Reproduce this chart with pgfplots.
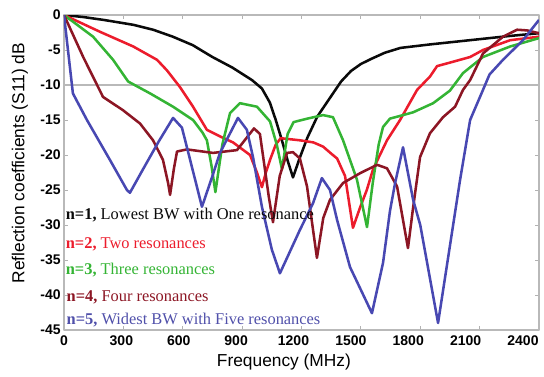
\documentclass[border=0pt]{standalone}
\usepackage{pgfplots}
\pgfplotsset{compat=1.18}
\usepackage{fontspec}
\setmainfont{Liberation Serif}
\setsansfont{Liberation Sans}
\definecolor{cblack}{RGB}{10,10,10}
\definecolor{cred}{RGB}{236,28,44}
\definecolor{cgreen}{RGB}{52,180,52}
\definecolor{cdred}{RGB}{140,22,36}
\definecolor{cblue}{RGB}{72,72,178}
\definecolor{tblue}{RGB}{80,80,170}
\begin{document}
\begin{tikzpicture}
\path[use as bounding box] (-48pt,-34.5pt) rectangle (360pt,247.5pt);
\begin{axis}[
  at={(0,0)}, anchor=south west,
  width=356.25pt, height=236.25pt, scale only axis,
  xmin=0, xmax=2400, ymin=-45, ymax=0,
  xtick={0,300,...,2400}, ytick={-45,-40,...,0},
  tick align=inside, major tick length=3pt,
  tick style={gray!60, line width=0.6pt},
  axis line style={gray!55, line width=0.8pt},
  ticklabel style={font=\sffamily\bfseries\fontsize{10.5}{12}\selectfont},
  /pgf/number format/assume math mode=true,
  /pgf/number format/1000 sep={},
  xticklabel style={xshift={-1.5pt*\ticknum}, yshift=-1pt},
  yticklabel style={xshift=1pt},
  xlabel={Frequency (MHz)},
  ylabel={Reflection coefficients (S11) dB},
  label style={font=\sffamily\fontsize{13}{15}\selectfont},
  xlabel style={at={(axis description cs:0.463,-0.1016)}, anchor=center},
  ylabel style={at={(axis description cs:-0.0926,0.53)}, anchor=center, rotate=0},
  line join=round,
]
\addplot[gray!55, line width=1.5pt, forget plot] coordinates {(0,-10) (2400,-10)};
% n=1
\addplot[cblack, line width=1.9pt] coordinates {
(0,0)(100,-0.3)(200,-0.7)(350,-1.4)(450,-2.1)(550,-3.1)(650,-4.3)(750,-6)(850,-7.5)(950,-9.3)(1000,-10.5)(1040,-12.5)(1070,-15)(1100,-17.8)(1130,-20.8)(1157,-23.2)(1190,-20.5)(1230,-17.5)(1280,-14.5)(1340,-12)(1400,-9.5)(1450,-8)(1500,-7)(1550,-6.3)(1620,-5.4)(1700,-4.7)(1850,-4.2)(2050,-3.6)(2250,-3.0)(2400,-2.6)};
% n=2
\addplot[cred, line width=1.9pt] coordinates {
(0,0)(182,-2.4)(350,-4.5)(470,-6.4)(520,-7.9)(586,-10.3)(652,-13.1)(722,-16.4)(800,-17.5)(854,-18.2)(940,-20)(975,-22.5)(1000,-24.6)(1020,-22.5)(1041,-20.7)(1070,-18.5)(1095,-17.6)(1192,-17.9)(1260,-18.2)(1309,-18.8)(1350,-19.8)(1380,-20.5)(1420,-23)(1460,-30.4)(1496,-27.5)(1530,-25)(1562,-22)(1632,-17.9)(1698,-15)(1784,-10.7)(1849,-8.8)(1885,-7.3)(1950,-6.8)(2052,-6)(2117,-5)(2254,-3.6)(2400,-3.1)};
% n=3
\addplot[cgreen, line width=1.9pt] coordinates {
(0,0)(147,-3.1)(248,-6.4)(324,-9.5)(435,-11.2)(551,-13.1)(652,-15)(700,-16.8)(722,-17.9)(745,-21.5)(765,-25.3)(800,-18.5)(839,-14)(889,-12.6)(975,-13.1)(1041,-15.2)(1075,-18.5)(1101,-22)(1130,-17)(1160,-15.3)(1230,-14.8)(1309,-14.3)(1359,-14.6)(1410,-17.9)(1480,-23.5)(1531,-30.3)(1560,-24)(1590,-18.5)(1612,-16)(1647,-14.8)(1700,-14.4)(1764,-13.9)(1865,-12.6)(1950,-10.8)(2016,-8.3)(2117,-6)(2254,-4.5)(2400,-3.3)};
% n=4
\addplot[cdred, line width=1.9pt] coordinates {
(0,0)(97,-6)(197,-11.7)(298,-13.6)(384,-15.5)(450,-17.9)(500,-20.7)(526,-24)(536,-25.7)(555,-22)(571,-19.5)(621,-19.2)(753,-19.7)(874,-19.3)(960,-16.2)(990,-17)(1010,-21)(1035,-26)(1056,-29.6)(1090,-23)(1127,-19.7)(1157,-19.6)(1192,-20.5)(1228,-24.5)(1278,-34.7)(1310,-29)(1344,-26.4)(1410,-24)(1496,-22.6)(1582,-21.4)(1632,-21.9)(1683,-24.5)(1738,-33.3)(1764,-27.5)(1799,-20.3)(1849,-16.9)(1915,-14.6)(1976,-13.1)(2016,-10.7)(2052,-9.3)(2117,-5.5)(2218,-3.1)(2289,-2.1)(2340,-2.2)(2400,-2.6)};
% n=5
\addplot[cblue, line width=1.9pt] coordinates {
(0,0)(20,-5)(45,-11.2)(116,-15)(232,-20.7)(318,-25)(333,-25.4)(400,-22)(480,-18)(551,-14.7)(596,-16.1)(640,-21)(697,-27.4)(750,-23)(788,-19.7)(879,-14.7)(924,-16.4)(955,-20.3)(1000,-27.4)(1050,-33.5)(1091,-36.9)(1192,-30.7)(1258,-26.9)(1303,-23.3)(1344,-25)(1380,-29.3)(1445,-36)(1556,-42.6)(1612,-35.4)(1647,-28)(1673,-24)(1713,-18.9)(1764,-26.4)(1800,-30)(1890,-44)(2001,-23.6)(2052,-15)(2117,-10.7)(2150,-8.5)(2218,-6.4)(2319,-3.6)(2400,-0.7)};
\begin{scope}[every node/.style={anchor=west, inner sep=0pt, font=\fontsize{12.3}{14}\selectfont}]
\node[text=cblack] at (axis cs:8,-28.6) {\textbf{n=1,} Lowest BW with One resonance};
\node[text=cred] at (axis cs:8,-32.7) {\textbf{n=2,} Two resonances};
\node[text=cgreen] at (axis cs:8,-36.4) {\textbf{n=3,} Three resonances};
\node[text=cdred] at (axis cs:12,-40.4) {\textbf{n=4,} Four resonances};
\node[text=tblue] at (axis cs:12,-43.6) {\textbf{n=5,} Widest BW with Five resonances};
\end{scope}
\end{axis}
\end{tikzpicture}
\end{document}
